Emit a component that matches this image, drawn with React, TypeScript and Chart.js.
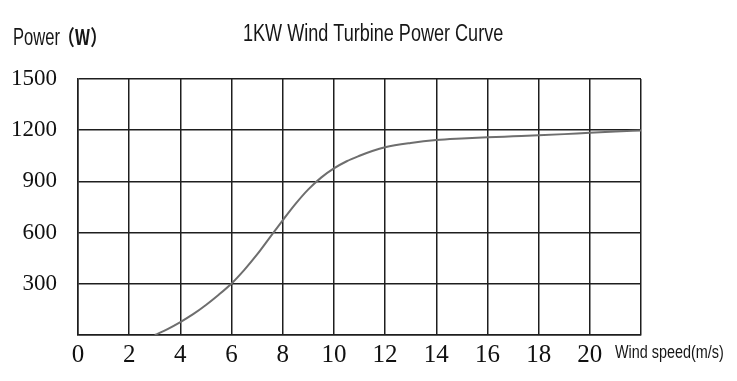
import React, { useEffect, useRef } from "react";
import { Chart, registerables } from "chart.js";

Chart.register(...registerables);

const windSpeed = [3, 3.5, 4, 4.5, 5, 5.5, 6, 6.5, 7, 7.5, 8, 8.5, 9, 9.5, 10, 10.5, 11, 11.5, 12, 13, 14, 15, 16, 17, 18, 19, 20, 21, 22];
const power = [0, 35, 76, 122, 176, 236, 302, 382, 472, 572, 672, 768, 853, 922, 976, 1018, 1050, 1078, 1100, 1125, 1142, 1151, 1158, 1164, 1170, 1177, 1185, 1192, 1198];
const titleText = "1KW Wind Turbine Power Curve";
const yTitle = "Power";
const yUnit = "（W）";
const xTitle = "Wind speed(m/s)";

const textPlugin = {
  id: "customText",
  afterDraw(chart: any) {
    const ctx = chart.ctx;
    ctx.save();
    ctx.fillStyle = "#161616";
    ctx.textBaseline = "alphabetic";
    ctx.textAlign = "left";
    // title
    ctx.save();
    ctx.translate(243, 41);
    ctx.scale(0.785, 1);
    ctx.font = '23px "Liberation Sans", Arial, sans-serif';
    ctx.fillText(titleText, 0, 0);
    ctx.restore();
    // y title
    ctx.save();
    ctx.translate(13, 45);
    ctx.scale(0.72, 1);
    ctx.font = '23px "Liberation Sans", Arial, sans-serif';
    ctx.fillText(yTitle, 0, 0);
    ctx.restore();
    ctx.save();
    ctx.translate(58, 45);
    ctx.scale(0.8, 1);
    ctx.font = 'bold 21px "Noto Sans CJK SC", sans-serif';
    ctx.fillText(yUnit, 0, 0);
    ctx.restore();
    // x title
    ctx.save();
    ctx.translate(615, 358);
    ctx.scale(0.8, 1);
    ctx.font = '18px "Liberation Sans", Arial, sans-serif';
    ctx.fillText(xTitle, 0, 0);
    ctx.restore();
    ctx.restore();
  },
};

export default function App() {
  const ref = useRef<HTMLCanvasElement | null>(null);
  useEffect(() => {
    if (!ref.current) return;
    const chart = new Chart(ref.current, {
      type: "line",
      data: {
        datasets: [
          {
            data: windSpeed.map((x, i) => ({ x, y: power[i] })),
            borderColor: "#6e6e6e",
            borderWidth: 2,
            pointRadius: 0,
            fill: false,
            cubicInterpolationMode: "monotone",
          },
        ],
      },
      options: {
        animation: false,
        responsive: false,
        devicePixelRatio: 1,
        layout: { padding: { left: 0, right: 96, top: 79, bottom: 0 } },
        plugins: { legend: { display: false }, title: { display: false }, tooltip: { enabled: false } },
        scales: {
          x: {
            type: "linear",
            min: 0,
            max: 22,
            afterFit: (scale: any) => {
              scale.height = 46;
            },
            grid: { color: "#1e1e1e", lineWidth: 1.5, drawTicks: false },
            border: { color: "#1e1e1e", width: 1.5 },
            ticks: {
              stepSize: 2,
              autoSkip: false,
              maxRotation: 0,
              padding: 5,
              color: "#111",
              font: { family: '"Liberation Serif", serif', size: 25 },
              callback: (v: any) => (v === 22 ? "" : String(v)),
            },
          },
          y: {
            type: "linear",
            min: 0,
            max: 1500,
            afterFit: (scale: any) => {
              scale.width = 78;
            },
            grid: { color: "#1e1e1e", lineWidth: 1.5, drawTicks: false },
            border: { color: "#1e1e1e", width: 1.5 },
            ticks: {
              stepSize: 300,
              padding: 21,
              color: "#111",
              font: { family: '"Liberation Serif", serif', size: 23 },
              callback: (v: any) => (v === 0 ? "" : String(v)),
            },
          },
        },
      },
      plugins: [textPlugin],
    });
    return () => chart.destroy();
  }, []);
  return (
    <div style={{ position: "absolute", left: 0, top: 0, width: 737, height: 381, background: "#fff" }}>
      <canvas ref={ref} width={737} height={381} style={{ display: "block" }} />
    </div>
  );
}
